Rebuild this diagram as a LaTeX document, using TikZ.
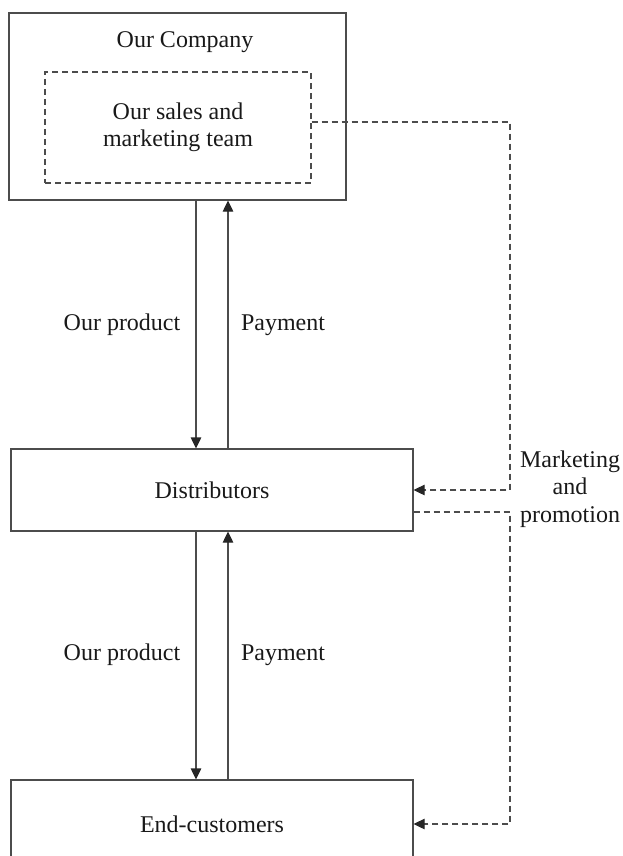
\documentclass[tikz,border=0pt]{standalone}
\usepackage{fontspec}
\setmainfont{Liberation Serif}
\usetikzlibrary{arrows.meta,calc}

\begin{document}
\begin{tikzpicture}[x=1pt,y=-1pt,
  every node/.style={font=\fontsize{24}{27.5}\selectfont, text=black!90},
  box/.style={draw=black!70, line width=1.2pt, rectangle, inner sep=0pt},
  teambox/.style={draw=black!70, line width=1.1pt, rectangle, inner sep=0pt,
    dash pattern=on 6pt off 4pt},
  tip/.style={-{Triangle[length=11pt,width=10.5pt,color=black!85]}},
  flow/.style={draw=black!70, line width=1.2pt, tip},
  promo/.style={draw=black!70, line width=1.1pt, dash pattern=on 6pt off 4pt, tip},
  lbl/.style={inner sep=0pt, align=center}]

  % page frame
  \useasboundingbox (0,0) rectangle (623,856);
  \clip (0,0) rectangle (623,856);

  % company with its sales team
  \node[box, minimum width=337pt, minimum height=187pt] (company) at (177.5,106.5) {};
  \node[lbl] (companytitle) at (185,42) {Our Company};
  \node[teambox, minimum width=266pt, minimum height=111pt, align=center]
    (team) at (178,127.5) {Our sales and\\marketing team};

  % distributors and end-customers
  \node[box, minimum width=402pt, minimum height=82pt] (dist) at (212,490) {Distributors};
  \node[box, minimum width=402pt, minimum height=88pt] (endc) at (212,824) {End-customers};

  % product and payment flows
  \draw[flow] ([xshift=-16pt]dist.north |- company.south) -- ([xshift=-16pt]dist.north);
  \draw[flow] ([xshift=16pt]dist.north) -- ([xshift=16pt]dist.north |- company.south);
  \draw[flow] ([xshift=-16pt]dist.south) -- ([xshift=-16pt]endc.north);
  \draw[flow] ([xshift=16pt]endc.north) -- ([xshift=16pt]dist.south);

  \node[lbl] (prod1) at (122,325) {Our product};
  \node[lbl] (pay1) at (283,325) {Payment};
  \node[lbl] (prod2) at (122,655) {Our product};
  \node[lbl] (pay2) at (283,655) {Payment};

  % marketing and promotion channel
  \coordinate (rail) at (510,0);
  \draw[promo] ([yshift=5.5pt]team.east) -| (rail |- dist.east) -- (dist.east);
  \draw[promo] ([yshift=-22pt]dist.east) -| (rail |- endc.east) -- (endc.east);
  \node[lbl] (mkt) at (570,489) {Marketing\\and\\promotion};
\end{tikzpicture}
\end{document}
